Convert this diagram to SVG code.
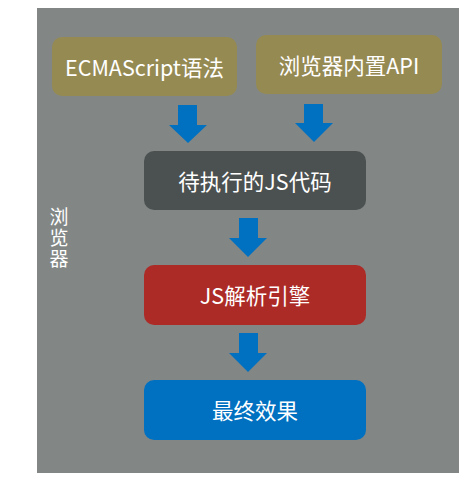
<svg xmlns="http://www.w3.org/2000/svg" width="476" height="481" viewBox="0 0 476 481">
<style>
text{font-family:"Noto Sans CJK SC","Noto Sans",sans-serif;font-size:21.5px;fill:#ffffff;text-anchor:middle;dominant-baseline:central}
.arrow{fill:#0070c0}
.vert{font-size:19px;writing-mode:vertical-rl;letter-spacing:2px}
</style>
<rect x="0" y="0" width="476" height="481" fill="#ffffff"/>
<g id="browser">
<rect x="37" y="8" width="422" height="465" fill="#828786"/>
<text class="vert" x="59" y="239">浏览器</text>
</g>
<g id="ecma"><rect x="52" y="37" width="185" height="59" rx="10" fill="#968a53"/><text x="144.5" y="66">ECMAScript语法</text></g>
<g id="api"><rect x="256" y="35" width="186" height="59" rx="10" fill="#968a53"/><text x="349" y="64">浏览器内置API</text></g>
<g id="code"><rect x="144" y="151" width="222" height="59" rx="10" fill="#4b5150"/><text x="255" y="180">待执行的JS代码</text></g>
<g id="engine"><rect x="144" y="265" width="222" height="60" rx="10" fill="#ad2b27"/><text x="255" y="294.5">JS解析引擎</text></g>
<g id="result"><rect x="144" y="380" width="222" height="60" rx="10" fill="#0071c1"/><text x="255" y="409.5">最终效果</text></g>
<g id="connectors">
<polygon class="arrow" points="178,105 197,105 197,125 207,125 188,143 169,125 178,125"/>
<polygon class="arrow" points="304,104 323,104 323,123 333,123 314,142 295,123 304,123"/>
<polygon class="arrow" points="239,218 258,218 258,238 267,238 248,257 229,238 239,238"/>
<polygon class="arrow" points="239,333 258,333 258,353 267,353 248,372 229,353 239,353"/>
</g>
</svg>
